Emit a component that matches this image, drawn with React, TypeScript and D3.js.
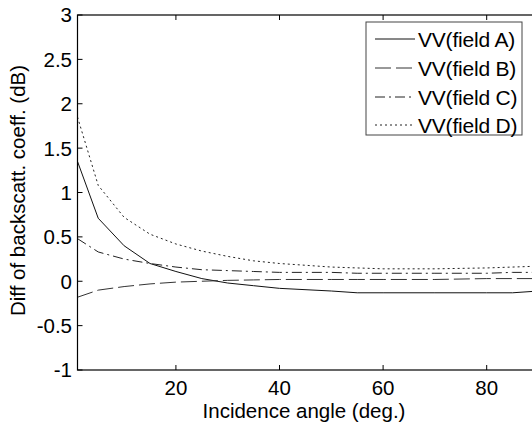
import React from "react";
import * as d3 from "d3";

const angles = [1, 5, 10, 15, 20, 25, 30, 35, 40, 50, 55, 60, 70, 80, 85, 90];
const fieldA = [1.35, 0.71, 0.4, 0.2, 0.11, 0.03, -0.02, -0.05, -0.08, -0.11, -0.13, -0.13, -0.13, -0.13, -0.13, -0.11];
const fieldB = [-0.18, -0.1, -0.06, -0.03, -0.01, 0.0, 0.01, 0.015, 0.02, 0.02, 0.02, 0.02, 0.02, 0.03, 0.03, 0.03];
const fieldC = [0.48, 0.33, 0.25, 0.2, 0.16, 0.13, 0.12, 0.11, 0.1, 0.1, 0.09, 0.09, 0.09, 0.09, 0.1, 0.1];
const fieldD = [1.85, 1.08, 0.72, 0.53, 0.42, 0.34, 0.28, 0.23, 0.2, 0.16, 0.15, 0.14, 0.14, 0.15, 0.16, 0.17];

const xTicks = [20, 40, 60, 80];
const yTicks = [-1, -0.5, 0, 0.5, 1, 1.5, 2, 2.5, 3];
const seriesNames = ["VV(field A)", "VV(field B)", "VV(field C)", "VV(field D)"];

const FONT = "'Liberation Sans', Arial, sans-serif";

export default function App() {
  const left = 77.5, right = 538.5, top = 15, bottom = 370;
  const x = d3.scaleLinear().domain([1, 90]).range([left, right]);
  const y = d3.scaleLinear().domain([-1, 3]).range([bottom, top]);
  const line = d3
    .line<[number, number]>()
    .x((d) => x(d[0]))
    .y((d) => y(d[1]));

  const series = [
    { name: seriesNames[0], vals: fieldA, dash: "none", color: "#111" },
    { name: seriesNames[1], vals: fieldB, dash: "16,5", color: "#333" },
    { name: seriesNames[2], vals: fieldC, dash: "10,4,2,4", color: "#222" },
    { name: seriesNames[3], vals: fieldD, dash: "2,3", color: "#222" },
  ];

  const tickLen = 5;
  const fs = 20.5;
  const lfs = 21;
  const lgX = 366, lgY = 22, lgW = 156, lgH = 113;
  const rowY = [39, 68, 97, 125];

  return (
    <svg
      width={532}
      height={424}
      style={{ position: "absolute", left: 0, top: 0, display: "block", background: "#fff" }}
    >
      <rect x={0} y={0} width={532} height={424} fill="#fff" />
      <defs>
        <clipPath id="plotclip">
          <rect x={left} y={top} width={right - left} height={bottom - top} />
        </clipPath>
      </defs>
      <g clipPath="url(#plotclip)">
        {series.map((s) => (
          <path
            key={s.name}
            d={line(angles.map((a, i) => [a, s.vals[i]] as [number, number])) || ""}
            fill="none"
            stroke={s.color}
            strokeWidth={1}
            strokeDasharray={s.dash}
          />
        ))}
      </g>
      <rect x={left} y={top} width={right - left} height={bottom - top} fill="none" stroke="#000" strokeWidth={1.2} />
      {xTicks.map((t) => (
        <g key={"x" + t}>
          <line x1={x(t)} x2={x(t)} y1={bottom} y2={bottom - tickLen} stroke="#000" />
          <line x1={x(t)} x2={x(t)} y1={top} y2={top + tickLen} stroke="#000" />
          <text x={x(t)} y={395} textAnchor="middle" fontFamily={FONT} fontSize={fs} fill="#000">
            {t}
          </text>
        </g>
      ))}
      {yTicks.map((t) => (
        <g key={"y" + t}>
          <line x1={left} x2={left + tickLen} y1={y(t)} y2={y(t)} stroke="#000" />
          <line x1={right} x2={right - tickLen} y1={y(t)} y2={y(t)} stroke="#000" />
          <text x={72} y={y(t)} dy="0.36em" textAnchor="end" fontFamily={FONT} fontSize={fs} fill="#000">
            {t}
          </text>
        </g>
      ))}
      <text x={(left + right) / 2 - 4} y={418} textAnchor="middle" fontFamily={FONT} fontSize={fs} fill="#000">
        Incidence angle (deg.)
      </text>
      <text
        transform={`translate(25, ${(top + bottom) / 2 - 2}) rotate(-90)`}
        textAnchor="middle"
        fontFamily={FONT}
        fontSize={fs}
        fill="#000"
      >
        Diff of backscatt. coeff. (dB)
      </text>
      <rect x={lgX} y={lgY} width={lgW} height={lgH} fill="#fff" stroke="#444" strokeWidth={1} />
      {series.map((s, i) => (
        <g key={"lg" + i}>
          <line x1={375} x2={415} y1={rowY[i]} y2={rowY[i]} stroke={s.color} strokeWidth={1} strokeDasharray={s.dash} />
          <text x={418} y={rowY[i]} dy="0.36em" fontFamily={FONT} fontSize={lfs} letterSpacing={-0.2} fill="#000">
            {s.name}
          </text>
        </g>
      ))}
    </svg>
  );
}
